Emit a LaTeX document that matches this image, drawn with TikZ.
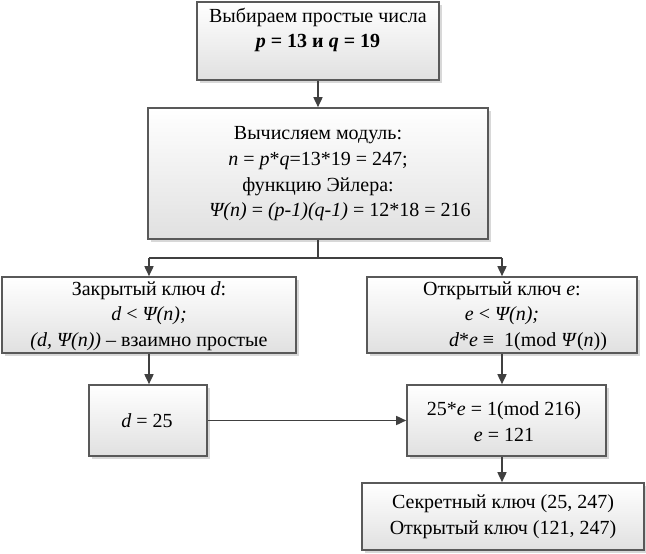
\documentclass[tikz,border=0pt]{standalone}
\usepackage{fontspec}
\setmainfont{Liberation Serif}
\usetikzlibrary{arrows.meta,shadows}
\begin{document}
\begin{tikzpicture}[x=1pt,y=-1pt,
 box/.style={draw=black!65, line width=1.6pt, top color=white, bottom color=black!12,
   drop shadow={shadow xshift=2.5pt,shadow yshift=-2.5pt,fill=black!30,opacity=0.5}, inner sep=0pt},
 txt/.style={align=center, font=\fontsize{20}{25.7}\selectfont, inner sep=0pt},
 conn/.style={draw=black!75, line width=1.6pt},
 arr/.style={conn,-{Triangle[length=10pt,width=9pt]}}]
\path[use as bounding box, fill=white] (0,0) rectangle (646,554);

\node[box, minimum width=242pt, minimum height=78pt] (b1) at (318,41) {};
\node[box, minimum width=340pt, minimum height=131pt] (b2) at (318,173.5) {};
\node[box, minimum width=294pt, minimum height=76pt] (b3) at (149,315) {};
\node[box, minimum width=270pt, minimum height=76pt] (b4) at (502,315) {};
\node[box, minimum width=118pt, minimum height=71pt] (b5) at (148,420.5) {};
\node[box, minimum width=199pt, minimum height=71pt] (b6) at (506.5,420.5) {};
\node[box, minimum width=282pt, minimum height=67pt] (b7) at (503,516.5) {};

\node[txt] (t1) at (318,30) {Выбираем простые числа\\ \textbf{\textit{p} = 13 и \textit{q} = 19}};
\node[txt] (t2) at (318,174) {Вычисляем модуль:\\ \textit{n} = \textit{p}*\textit{q}=13*19 = 247;\\ функцию Эйлера:\\ \hspace*{44pt}\textit{Ψ(n)} = \textit{(p-1)(q-1)} = 12*18 = 216};
\node[txt] (t3) at (149,316) {Закрытый ключ \textit{d}:\\ \textit{d} < \textit{Ψ(n);}\\ \textit{(d, Ψ(n))} – взаимно простые};
\node[txt] (t4) at (502,316) {Открытый ключ \textit{e}:\\ \textit{e} < \textit{Ψ(n);}\\ \hspace*{52pt}\textit{d}*\textit{e} ≡ \ 1(mod \textit{Ψ}(\textit{n}))};
\node[txt] (t5) at (147,421) {\textit{d} = 25};
\node[txt] (t6) at (504,421.5) {25*\textit{e} = 1(mod 216)\\ \textit{e} = 121};
\node[txt] (t7) at (503,517) {Секретный ключ (25, 247)\\ Открытый ключ (121, 247)};

\coordinate (split) at (318,258);
\coordinate (sl) at (149,258);
\coordinate (sr) at (502,258);
\draw[arr] (b1.south) -- (b2.north);
\draw[conn] (b2.south) -- (split);
\draw[conn] (sl) -- (sr);
\draw[arr] (sl) -- (b3.north);
\draw[arr] (sr) -- (b4.north);
\draw[arr] (b3.south) -- (b3.south |- b5.north);
\draw[arr] (b5.east) -- (b6.west);
\draw[arr] (b4.south) -- (b4.south |- b6.north);
\draw[arr] (b6.south -| b4.south) -- (b4.south |- b7.north);
\end{tikzpicture}
\end{document}
